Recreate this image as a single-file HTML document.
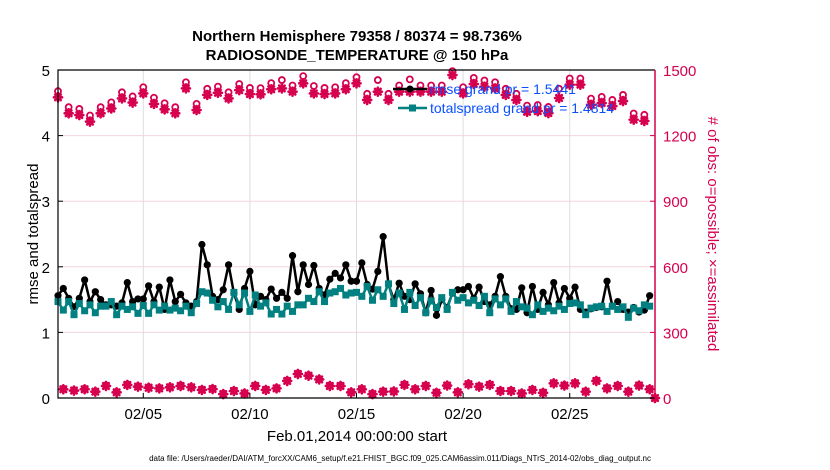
<!DOCTYPE html>
<html><head><meta charset="utf-8"><style>
html,body{margin:0;padding:0;background:#fff;}
svg{display:block;font-family:"Liberation Sans",Arial,sans-serif;}
</style></head><body>
<svg id="chart" width="830" height="470" viewBox="0 0 830 470" xmlns="http://www.w3.org/2000/svg">
<g id="grid"></g>
<g id="marks"></g>
<g id="axes"></g>
<text x="357" y="41" text-anchor="middle" font-size="15" font-weight="bold">Northern Hemisphere 79358 / 80374 = 98.736%</text>
<text x="357" y="60" text-anchor="middle" font-size="15" font-weight="bold">RADIOSONDE_TEMPERATURE @ 150 hPa</text>
<text transform="translate(38,234) rotate(-90)" text-anchor="middle" font-size="15">rmse and totalspread</text>
<text transform="translate(708,234) rotate(90)" text-anchor="middle" font-size="15" fill="#d6004f"># of obs: o=possible; ×=assimilated</text>
<text x="357" y="441" text-anchor="middle" font-size="15">Feb.01,2014 00:00:00 start</text>
<text x="400" y="461" text-anchor="middle" font-size="8">data file: /Users/raeder/DAI/ATM_forcXX/CAM6_setup/f.e21.FHIST_BGC.f09_025.CAM6assim.011/Diags_NTrS_2014-02/obs_diag_output.nc</text>
<g id="marksTop"></g>
<g id="legend">
 <g>
  <line x1="393" y1="89" x2="427" y2="89" stroke="#000" stroke-width="2.5"/>
  <circle cx="410" cy="89" r="3.5" fill="#000"/>
  <text x="430" y="94" font-size="14" fill="#0a50ff">rmse grand pr = 1.5441</text>
 </g>
 <g>
  <line x1="398" y1="108" x2="427" y2="108" stroke="#008080" stroke-width="2.5"/>
  <rect x="409" y="104.5" width="7" height="7" fill="#008080"/>
  <text x="430" y="113" font-size="14" fill="#0a50ff">totalspread grand pr = 1.4814</text>
 </g>
</g>
</svg>
<script>
const rmse=[1.56,1.67,1.52,1.39,1.52,1.80,1.47,1.62,1.50,1.42,1.42,1.40,1.45,1.76,1.47,1.51,1.51,1.71,1.47,1.69,1.35,1.80,1.47,1.58,1.45,1.40,1.47,2.34,
2.03,1.55,1.50,1.65,2.03,1.60,1.35,1.67,1.93,1.42,1.55,1.50,1.66,1.52,1.61,1.52,2.17,1.62,2.03,1.73,2.02,1.67,1.57,1.81,1.90,1.83,2.03,1.78,
1.78,2.06,1.73,1.66,1.93,2.46,1.73,1.50,1.75,1.55,1.50,1.74,1.59,1.30,1.64,1.26,1.50,1.38,1.60,1.65,1.65,1.70,1.52,1.69,1.47,1.42,1.55,1.85,
1.55,1.36,1.35,1.68,1.30,1.70,1.35,1.61,1.42,1.76,1.45,1.67,1.52,1.69,1.35,1.31,1.36,1.38,1.39,1.78,1.40,1.47,1.35,1.31,1.38,1.31,1.34,1.56];
const spread=[1.47,1.34,1.47,1.27,1.44,1.33,1.42,1.30,1.40,1.40,1.47,1.27,1.40,1.35,1.39,1.29,1.41,1.29,1.42,1.34,1.40,1.34,1.37,1.33,1.40,1.30,1.44,1.62,
1.60,1.49,1.39,1.47,1.35,1.61,1.42,1.60,1.32,1.57,1.40,1.45,1.28,1.35,1.28,1.40,1.32,1.42,1.42,1.52,1.47,1.62,1.47,1.60,1.62,1.67,1.57,1.60,
1.61,1.55,1.70,1.49,1.65,1.55,1.74,1.44,1.60,1.35,1.61,1.41,1.53,1.30,1.48,1.38,1.53,1.35,1.61,1.49,1.53,1.45,1.49,1.41,1.55,1.30,1.51,1.42,
1.51,1.32,1.47,1.39,1.37,1.27,1.42,1.32,1.37,1.33,1.40,1.35,1.44,1.45,1.42,1.27,1.37,1.39,1.40,1.32,1.40,1.35,1.39,1.23,1.37,1.33,1.42,1.40];
const obsAssim=[1375,40,1302,34,1294,40,1264,29,1302,55,1324,26,1370,60,1351,52,1393,47,1345,44,1320,49,1302,55,1416,49,1317,37,1386,41,1396,18,1370,32,1408,21,1390,55,1389,37,1412,44,1416,78,1401,110,1439,102,1393,85,1390,55,1393,55,1412,26,1439,40,
1363,18,1401,29,1363,30,1401,60,1401,40,1401,55,1401,24,1401,57,1477,26,1393,63,1436,52,1424,60,1416,32,1386,32,1363,21,1309,37,1312,24,1303,67,1372,57,1433,67,1433,29,1341,78,1349,44,1335,55,1358,29,1273,57,1267,40,0];
const obsPossible=[1403,42,1330,36,1322,42,1292,31,1330,57,1352,28,1398,62,1379,54,1421,49,1373,46,1348,51,1330,57,1444,51,1345,39,1414,43,1424,20,1398,34,1436,23,1418,57,1417,39,1440,46,1454,80,1429,112,1472,104,1427,87,1418,57,1421,57,1440,28,1467,42,
1391,20,1454,31,1391,32,1429,62,1457,42,1429,57,1429,26,1429,59,1495,28,1421,65,1464,54,1452,62,1444,34,1414,34,1391,23,1337,39,1340,26,1331,69,1414,59,1461,69,1461,31,1369,80,1377,46,1363,57,1386,31,1301,59,1295,42,0];
const xTickDays=[4,9,14,19,24];
const xTickLabels=["02/05","02/10","02/15","02/20","02/25"];
const leftTicks=[0,1,2,3,4,5];
const rightTicks=[0,300,600,900,1200,1500];

const X0=58,X1=655,Y0=398,Y1=70,DAYS=28,STEP=0.25;
const sx=d=>X0+d*(X1-X0)/DAYS;
const syL=v=>Y0-v*(Y0-Y1)/5;
const syR=n=>Y0-n*(Y0-Y1)/1500;
const NS="http://www.w3.org/2000/svg";
function mk(tag,attrs,parent){const e=document.createElementNS(NS,tag);for(const k in attrs)e.setAttribute(k,attrs[k]);parent.appendChild(e);return e;}
const grid=document.getElementById('grid'),marks=document.getElementById('marks'),axes=document.getElementById('axes');
const CR="#d6004f";

xTickDays.forEach((d,i)=>{
 const g=mk('line',{x1:sx(d),x2:sx(d),y1:Y1,y2:Y0,stroke:"#dcdcdc","stroke-width":1},grid);
 
 
 const t=mk('line',{x1:sx(d),x2:sx(d),y1:Y0,y2:Y0-5,stroke:"#000","stroke-width":1},axes);
 
 
 const l=mk('text',{x:sx(d),y:Y0+21,"text-anchor":"middle","font-size":15},axes);
 l.textContent=xTickLabels[i];
 
 
});
rightTicks.forEach(n=>{
 if(n>0&&n<1500){const g=mk('line',{x1:X0,x2:X1,y1:syR(n),y2:syR(n),stroke:"#f2d4de","stroke-width":1},grid);
 
 }
 const t=mk('line',{x1:X1,x2:X1-5,y1:syR(n),y2:syR(n),stroke:CR,"stroke-width":1},axes);
 
 
 const l=mk('text',{x:X1+8,y:syR(n)+6,"font-size":15,fill:CR},axes);
 l.textContent=n;
 
 
});
leftTicks.forEach(v=>{
 const t=mk('line',{x1:X0,x2:X0+5,y1:syL(v),y2:syL(v),stroke:"#000","stroke-width":1},axes);
 
 
 const l=mk('text',{x:X0-8,y:syL(v)+6,"text-anchor":"end","font-size":15},axes);
 l.textContent=v;
 
 
});
const box=mk('path',{d:`M${X1} ${Y1} H${X0} V${Y0} H${X1}`,fill:"none",stroke:"#000","stroke-width":1.2},axes);


const rax=mk('line',{x1:X1,x2:X1,y1:Y1,y2:Y0,stroke:CR,"stroke-width":1.5},axes);



function star(cx,cy,r,parent){
 const g=mk('g',{stroke:CR,"stroke-width":2.6,"stroke-linecap":"round"},parent);
 mk('line',{x1:cx-r,y1:cy,x2:cx+r,y2:cy},g);
 mk('line',{x1:cx,y1:cy-r,x2:cx,y2:cy+r},g);
 mk('line',{x1:cx-r*0.7,y1:cy-r*0.7,x2:cx+r*0.7,y2:cy+r*0.7},g);
 mk('line',{x1:cx-r*0.7,y1:cy+r*0.7,x2:cx+r*0.7,y2:cy-r*0.7},g);
 mk('circle',{cx:cx,cy:cy,r:r*0.55,fill:CR,stroke:"none"},g);
 return g;
}
// obs counts: circles first, stars on top
obsPossible.forEach((n,i)=>{
 const cx=sx(i*STEP);
 const c=mk('circle',{cx:cx,cy:syR(n),r:3,fill:"#fff",stroke:CR,"stroke-width":1.8},marks);
 
 
});
obsAssim.forEach((n,i)=>{
 const cx=sx(i*STEP);
 const s=star(cx,syR(n),4,marks);
 
 
});
// series lines
function series(vals,color,name,square){
 const pts=vals.map((v,i)=>sx(i*STEP).toFixed(1)+","+syL(v).toFixed(1)).join(" ");
 const pl=mk('polyline',{points:pts,fill:"none",stroke:color,"stroke-width":2.5,"stroke-linejoin":"round"},marks);
 
 
 vals.forEach((v,i)=>{
  let m;
  if(square){m=mk('rect',{x:sx(i*STEP)-3.5,y:syL(v)-3.5,width:7,height:7,fill:color},marks);}
  else{m=mk('circle',{cx:sx(i*STEP),cy:syL(v),r:3.6,fill:color},marks);}
  
  
 });
}
series(rmse,"#000","rmse",false);
series(spread,"#008080","totalspread",true);
</script>
</body></html>
